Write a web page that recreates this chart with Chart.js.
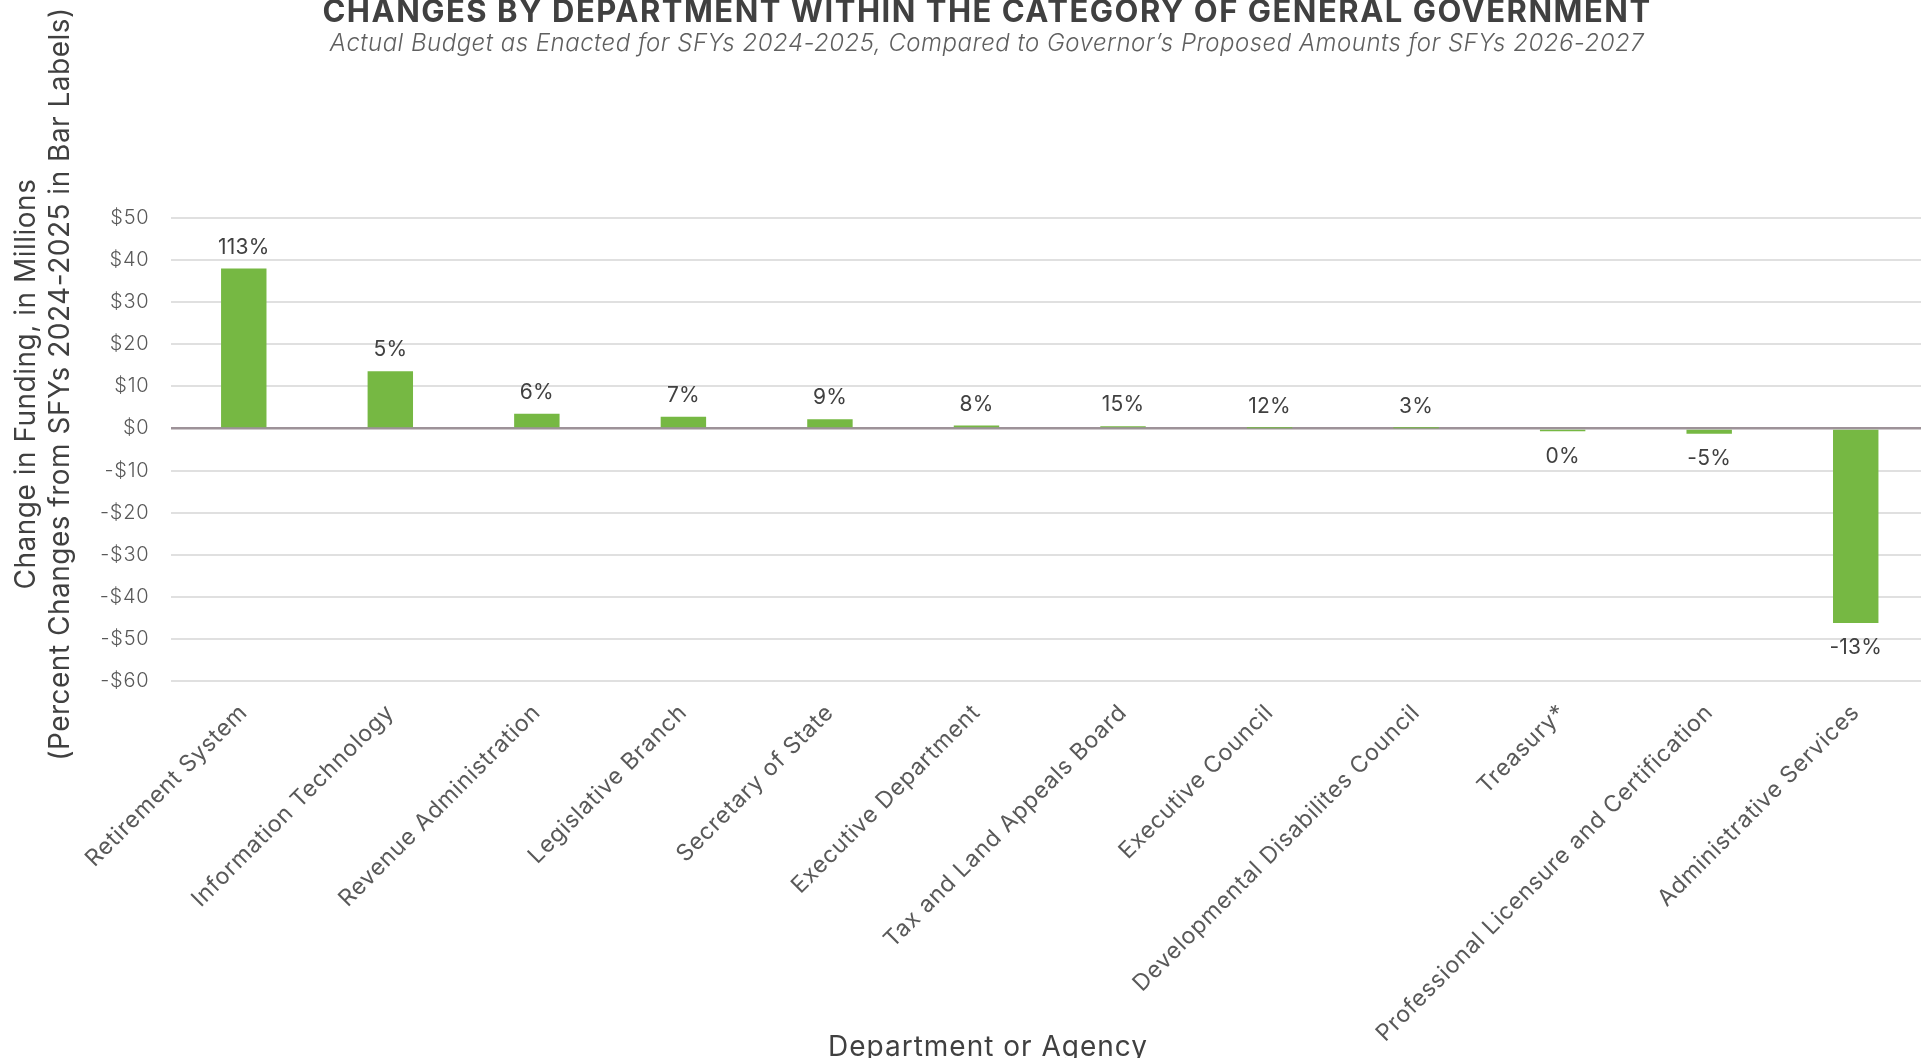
<!DOCTYPE html>
<html>
<head>
<meta charset="utf-8">
<script src="https://cdn.jsdelivr.net/npm/chart.js@4.4.1/dist/chart.umd.min.js"></script>
<style>
  html, body { margin: 0; padding: 0; background: #ffffff; overflow: hidden; }
  canvas { display: block; }
</style>
</head>
<body>
<canvas id="chart" width="1929" height="1058"></canvas>
<script>
// Departments in General Government, ordered by change in funding
const departments = [
  'Retirement System',
  'Information Technology',
  'Revenue Administration',
  'Legislative Branch',
  'Secretary of State',
  'Executive Department',
  'Tax and Land Appeals Board',
  'Executive Council',
  'Developmental Disabilites Council',
  'Treasury*',
  'Professional Licensure and Certification',
  'Administrative Services'
];

// Change in funding, SFYs 2026-2027 proposed vs SFYs 2024-2025 enacted ($ millions)
const fundingChange = [38.0, 13.6, 3.5, 2.8, 2.2, 0.7, 0.5, 0.05, 0.05, -0.65, -1.25, -46.2];

// Percent change shown above/below each bar
const percentLabels = ['113%', '5%', '6%', '7%', '9%', '8%', '15%', '12%', '3%', '0%', '-5%', '-13%'];

// Value axis range and spacing
const yMin = -60;
const yMax = 50;
const yStep = 10;

const chartTitle = 'CHANGES BY DEPARTMENT WITHIN THE CATEGORY OF GENERAL GOVERNMENT';
const chartSubtitle = 'Actual Budget as Enacted for SFYs 2024-2025, Compared to Governor\u2019s Proposed Amounts for SFYs 2026-2027';
const yTitleLines = ['Change in Funding, in Millions', '(Percent Changes from SFYs 2024-2025 in Bar Labels)'];
const xTitle = 'Department or Agency';

const FONT = 'Inter, "Noto Sans", sans-serif';
const DARK = '#404040';
const MID = '#595959';

function formatDollars(v) {
  return v < 0 ? '-$' + Math.abs(v) : '$' + v;
}

// Slightly open letter spacing for the axis tick text
const textSpacing = {
  id: 'textSpacing',
  beforeUpdate(chart) { chart.ctx.letterSpacing = '0.8px'; },
  beforeDraw(chart) { chart.ctx.letterSpacing = '0.8px'; }
};

// Titles, axis titles and bar labels
const annotations = {
  id: 'annotations',
  afterDatasetsDraw(chart) {
    const ctx = chart.ctx;
    ctx.save();

    // Percent labels on bars
    const meta = chart.getDatasetMeta(0);
    const labelSize = 21;
    ctx.letterSpacing = '0.2px';
    ctx.font = '400 ' + labelSize + 'px ' + FONT;
    ctx.fillStyle = DARK;
    ctx.textAlign = 'center';
    ctx.textBaseline = 'alphabetic';
    meta.data.forEach((bar, i) => {
      const v = fundingChange[i];
      const y = v >= 0 ? bar.y - 15 : bar.y + 16 + labelSize * 0.73;
      ctx.fillText(percentLabels[i], bar.x, y);
    });

    // Main title and subtitle
    const cx = 987;
    ctx.fillStyle = DARK;
    ctx.letterSpacing = '1.5px';
    ctx.font = '700 31px ' + FONT;
    ctx.fillText(chartTitle, cx, 22);
    ctx.fillStyle = '#5f5f5f';
    ctx.letterSpacing = '0.5px';
    ctx.font = 'italic 300 24px ' + FONT;
    ctx.fillText(chartSubtitle, cx, 51);

    // X axis title
    ctx.fillStyle = DARK;
    ctx.letterSpacing = '1px';
    ctx.font = '400 28px ' + FONT;
    ctx.fillText(xTitle, 988, 1056);

    // Y axis title (two rotated lines)
    ctx.translate(0, 384);
    ctx.rotate(-Math.PI / 2);
    ctx.textBaseline = 'middle';
    ctx.letterSpacing = '0.5px';
    ctx.font = '400 28px ' + FONT;
    ctx.fillText(yTitleLines[0], 0, 27);
    ctx.fillText(yTitleLines[1], 0, 61);

    ctx.restore();
  }
};

new Chart(document.getElementById('chart'), {
  type: 'bar',
  data: {
    labels: departments,
    datasets: [{
      data: fundingChange,
      backgroundColor: '#76b843',
      borderWidth: 0,
      barPercentage: 0.31,
      categoryPercentage: 1.0
    }]
  },
  options: {
    responsive: false,
    animation: false,
    devicePixelRatio: 1,
    layout: { padding: { top: 218, right: 0, left: 0, bottom: 0 } },
    plugins: {
      legend: { display: false },
      title: { display: false },
      tooltip: { enabled: false }
    },
    scales: {
      x: {
        offset: true,
        grid: { display: false, drawTicks: false },
        border: { display: false },
        ticks: {
          autoSkip: false,
          minRotation: 45,
          maxRotation: 45,
          padding: 18,
          color: MID,
          font: { family: FONT, size: 23, weight: '400' }
        },
        afterFit(scale) { scale.height = 377; }
      },
      y: {
        min: yMin,
        max: yMax,
        grid: {
          drawTicks: false,
          color: (c) => (c.tick && c.tick.value === 0 ? '#9d9298' : '#e0e0e0'),
          lineWidth: (c) => (c.tick && c.tick.value === 0 ? 2.5 : 2)
        },
        border: { display: false },
        ticks: {
          stepSize: yStep,
          padding: 21,
          color: MID,
          font: { family: FONT, size: 20, weight: '300' },
          callback: (v) => formatDollars(v)
        },
        afterFit(scale) { scale.width = 170.5; }
      }
    }
  },
  plugins: [textSpacing, annotations]
});
</script>
</body>
</html>
